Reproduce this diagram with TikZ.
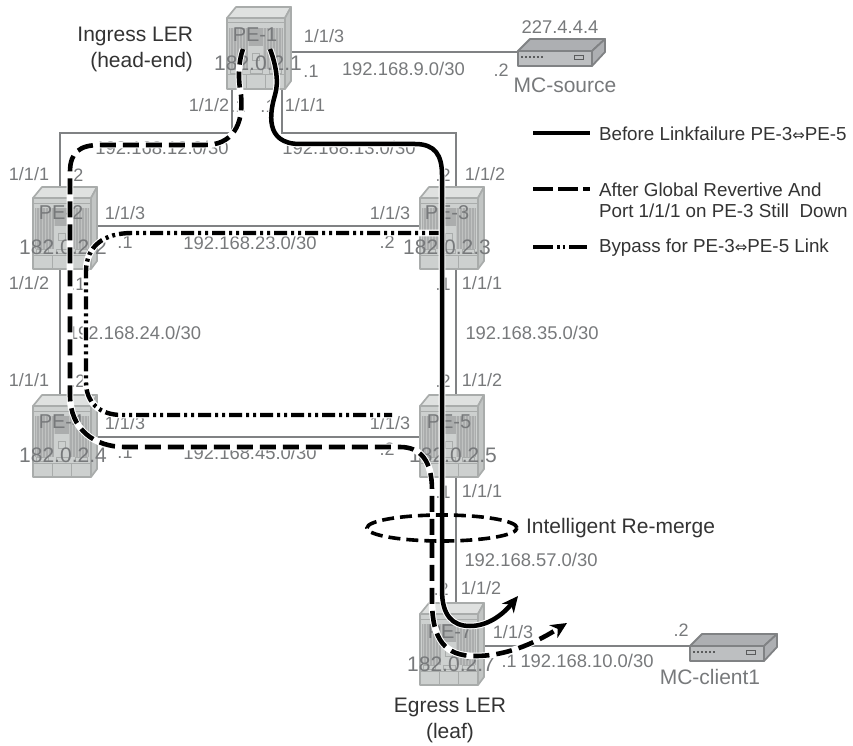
\documentclass[tikz,border=0pt]{standalone}
\usepackage{fontspec}
\setmainfont{Liberation Sans}
\newfontfamily\symfont{DejaVu Sans}
\usetikzlibrary{arrows.meta,calc,shapes.geometric}
\definecolor{labgray}{HTML}{77797B}
\definecolor{linkgray}{HTML}{808284}
\definecolor{dark}{HTML}{333333}
\definecolor{rface}{HTML}{CDD0CF}
\definecolor{rtop}{HTML}{DFE1E0}
\definecolor{rside}{HTML}{C2C5C4}
\definecolor{redge}{HTML}{A9ACAB}
\definecolor{rstripe}{HTML}{ABADAD}
\definecolor{devface}{HTML}{BDBFC1}
\definecolor{devtop}{HTML}{ADAFB2}
\newcommand{\biarrow}{{\symfont\fontsize{15}{15}\selectfont ⇔}}
\tikzset{
  x=1pt,y=-1pt,
  routerbox/.style={minimum width=65pt,minimum height=82pt,inner sep=0pt,outer sep=0pt},
  devbox/.style={minimum width=87pt,minimum height=29pt,inner sep=0pt,outer sep=0pt},
  link/.style={draw=linkgray,line width=2.8pt},
  lab/.style={text=labgray,font=\fontsize{18.4}{21}\selectfont,inner sep=0pt,outer sep=0pt},
  addr/.style={text=labgray,font=\fontsize{21}{24}\selectfont,inner sep=0pt,outer sep=0pt},
  pename/.style={text=labgray,font=\fontsize{20}{24}\selectfont,inner sep=0pt,outer sep=0pt},
  small/.style={text=labgray,font=\fontsize{18}{21}\selectfont,inner sep=0pt,outer sep=0pt},
  note/.style={text=dark,font=\fontsize{21}{24}\selectfont,inner sep=0pt,outer sep=0pt},
  legend/.style={text=dark,font=\fontsize{18.8}{22}\selectfont,inner sep=0pt,outer sep=0pt,anchor=west},
  casing/.style={preaction={draw=white,line width=6.6pt,solid}},
  before/.style={draw=black,line width=4.5pt},
  after/.style={draw=black,line width=4.6pt,dash pattern=on 16pt off 7pt},
  bypass/.style={draw=black,line width=4.4pt,dash pattern=on 13pt off 4pt on 3pt off 4pt on 3pt off 4pt},
  tipp/.style={-{Stealth[length=16pt,width=15pt,inset=5pt]}},
  pics/router/.style={code={
    % origin = centre of the chassis (65 x 82)
    \fill[rtop,draw=redge,line width=1.7pt,line join=round] (-32,-30) -- (-23,-41) -- (32,-41) -- (26,-30) -- cycle;
    \fill[rside,draw=redge,line width=1.7pt,line join=round] (26,-30) -- (32,-41) -- (32,33) -- (26,41) -- cycle;
    \fill[rface,draw=redge,line width=1.7pt,line join=round] (-32,-30) rectangle (26,41);
    \draw[redge,line width=1pt] (-32,-25) -- (26,-25);
    \fill[rstripe] (-30,-20) rectangle (24,21);
    \foreach \i in {-29,-26,...,-10,4,7,...,23}{\draw[rface!60!rstripe,line width=.6pt] (\i,-20) -- (\i,21);}
    \fill[rface] (-11,-2) rectangle (4,21);
    \draw[redge,line width=.8pt] (-7,5) rectangle (0,12);
    \draw[redge,line width=1pt] (-32,27) -- (26,27);
    \draw[redge,line width=1pt] (-13,27) -- (-13,41) (6,27) -- (6,41);
    \draw[redge,line width=.8pt] (-29,21) rectangle (-17,25) (-9,21) rectangle (3,25) (10,21) rectangle (22,25);
  }},
  pics/device/.style={code={
    % origin = centre of the device box
    \fill[devtop,draw=linkgray,line width=1.8pt,line join=round] (-43,-2) -- (-31,-14) -- (44,-14) -- (31,-2) -- cycle;
    \fill[devtop,draw=linkgray,line width=1.8pt,line join=round] (31,-2) -- (44,-14) -- (44,-1) -- (31,13) -- cycle;
    \fill[devface,draw=linkgray,line width=1.8pt,line join=round] (-43,-2) rectangle (31,13);
    \foreach \i in {-40,-36,...,-20}{\fill[linkgray!70!black] (\i,3) rectangle ++(2.4,2.4);}
    \draw[linkgray!70!black,line width=.9pt] (13,2.5) rectangle (22,6);
  }}
}
\begin{document}
\begin{tikzpicture}
\useasboundingbox (0,0) rectangle (853,746);
% anchors of the equipment
\node[routerbox] (pe1) at (259,48) {};
\node[routerbox] (pe2) at (65,228) {};
\node[routerbox] (pe3) at (452,228) {};
\node[routerbox] (pe4) at (65,436) {};
\node[routerbox] (pe5) at (452,436) {};
\node[routerbox] (pe7) at (452,644) {};
\node[devbox] (src) at (561,53) {};
\node[devbox] (cli) at (733,648) {};
% links
\draw[link] ([xshift=-27pt]pe1.south) |- (60,133) -- ([xshift=-5pt]pe2.north);
\draw[link] ([xshift=23pt]pe1.south) |- (456,133) -- ([xshift=4pt]pe3.north);
\draw[link] ([yshift=-4pt]pe1.east) -- ([yshift=1pt,xshift=1pt]src.west);
\draw[link] ([yshift=2pt]pe2.east) -- ([yshift=2pt]pe3.west);
\draw[link] ([xshift=-5pt]pe2.south) -- ([xshift=-5pt]pe4.north);
\draw[link] ([xshift=4pt]pe3.south) -- ([xshift=4pt]pe5.north);
\draw[link] ([yshift=-1pt]pe4.east) -- ([yshift=-1pt]pe5.west);
\draw[link] ([xshift=4pt]pe5.south) -- ([xshift=4pt]pe7.north);
\draw[link] ([yshift=-2pt]pe7.east) -- ([yshift=2pt,xshift=1pt]cli.west);
% equipment
\pic at (pe1.center) {router};
\pic at (pe2.center) {router};
\pic at (pe3.center) {router};
\pic at (pe4.center) {router};
\pic at (pe5.center) {router};
\pic at (pe7.center) {router};
\pic at (src.center) {device};
\pic at (cli.center) {device};
% labels
\node[note,anchor=east] (t1) at (193,36) {Ingress LER};
\node[note,anchor=east] (t2) at (193,62) {(head-end)};
\node[pename] (n1) at (255,35) {PE-1};
\node[addr] (a1) at (258,63) {182.0.2.1};
\node[small] (p1) at (324,36) {1/1/3};
\node[small] (d1) at (311,71) {.1};
\node[lab,anchor=west] (s1) at (342,69) {192.168.9.0/30};
\node[small] (d2) at (501,70) {.2};
\node[lab] (i1) at (560,27) {227.4.4.4};
\node[addr] (m1) at (565,85) {MC-source};
\node[small] (p2) at (209,105) {1/1/2};
\node[small] (d3) at (238,106) {.1};
\node[small] (d4) at (268,106) {.1};
\node[small] (p3) at (305,105) {1/1/1};
\node[lab] (s2) at (162,148) {192.168.12.0/30};
\node[lab] (s3) at (349,148) {192.168.13.0/30};
\node[small] (p4) at (29,174) {1/1/1};
\node[small] (d5) at (76,175) {.2};
\node[small] (d6) at (443,175) {.2};
\node[small] (p5) at (485,174) {1/1/2};
\node[pename] (n2) at (61,213) {PE-2};
\node[addr] (a2) at (63,247) {182.0.2.2};
\node[small] (p6) at (125,213) {1/1/3};
\node[small] (d7) at (125,242) {.1};
\node[lab] (s4) at (250,243) {192.168.23.0/30};
\node[small] (d8) at (387,242) {.2};
\node[small] (p7) at (390,213) {1/1/3};
\node[pename] (n3) at (447,213) {PE-3};
\node[addr] (a3) at (447,247) {182.0.2.3};
\node[small] (p8) at (29,283) {1/1/2};
\node[small] (d9) at (78,284) {.1};
\node[small] (d10) at (443,284) {.1};
\node[small] (p9) at (482,283) {1/1/1};
\node[lab,anchor=west] (s5) at (68,333) {192.168.24.0/30};
\node[lab] (s6) at (532,333) {192.168.35.0/30};
\node[small] (p10) at (29,380) {1/1/1};
\node[small] (d11) at (78,381) {.2};
\node[small] (d12) at (443,381) {.2};
\node[small] (p11) at (482,380) {1/1/2};
\node[pename] (n4) at (61,422) {PE-4};
\node[small] (p12) at (125,423) {1/1/3};
\node[addr] (a4) at (63,455) {182.0.2.4};
\node[small] (d13) at (125,452) {.1};
\node[lab] (s7) at (250,453) {192.168.45.0/30};
\node[small] (d14) at (387,449) {.2};
\node[small] (p13) at (390,423) {1/1/3};
\node[pename] (n5) at (449,422) {PE-5};
\node[addr] (a5) at (453,455) {182.0.2.5};
\node[small] (d15) at (443,492) {.1};
\node[small] (p14) at (482,491) {1/1/1};
\node[note,anchor=west] (t3) at (526,528) {Intelligent Re-merge};
\node[lab] (s8) at (531,560) {192.168.57.0/30};
\node[small] (d16) at (441,589) {.2};
\node[small] (p15) at (481,588) {1/1/2};
\node[small] (p16) at (513,632) {1/1/3};
\node[pename] (n7) at (450,632) {PE-7};
\node[addr] (a7) at (451,664) {182.0.2.7};
\node[small] (d17) at (509,661) {.1};
\node[lab] (s9) at (587,661) {192.168.10.0/30};
\node[small] (d18) at (681,630) {.2};
\node[addr] (m2) at (710,677) {MC-client1};
\node[note] (t4) at (450,707) {Egress LER};
\node[note] (t5) at (450,733) {(leaf)};
% route ends
\coordinate (bs) at ([xshift=11pt,yshift=-1pt]pe1.center);
\coordinate (as) at ([xshift=-16pt,yshift=-1pt]pe1.center);
\coordinate (be) at (518,596);
\coordinate (ae) at (567,623);
\coordinate (ys) at ([xshift=-10pt,yshift=-5pt]pe3.center);
\coordinate (ye) at (392,415);
% routes
\draw[bypass,casing] (ys) -- (132,233) .. controls (105,233) and (86,245) .. (86,272) -- (86,382) .. controls (86,403) and (100,415) .. (122,415) -- (ye);
\draw[after,tipp,casing] (as) .. controls (238,63) and (238,80) .. (241,95) .. controls (244,125) and (232,145) .. (205,145) -- (100,145) .. controls (80,145) and (70,152) .. (70,172) -- (70,395) .. controls (70,430) and (95,447) .. (125,447) -- (400,447) .. controls (420,447) and (432,460) .. (432,490) -- (432,600) .. controls (432,640) and (445,656) .. (475,656) .. controls (510,656) and (540,640) .. (ae);
\draw[before,tipp,casing] (bs) .. controls (276,65) and (279,82) .. (275,95) .. controls (270,112) and (264,144) .. (300,144) -- (415,144) .. controls (435,144) and (442,155) .. (442,175) -- (442,590) .. controls (442,615) and (452,626) .. (470,626) .. controls (490,626) and (505,612) .. (be);
\node[ellipse,draw=black,line width=3.6pt,dash pattern=on 12pt off 6pt,minimum width=150pt,minimum height=26pt,inner sep=0pt] (em) at (442,528) {};
% legend
\coordinate (l1a) at (533,133); \coordinate (l1b) at (590,133);
\coordinate (l2a) at (533,189); \coordinate (l2b) at (590,189);
\coordinate (l3a) at (533,247); \coordinate (l3b) at (587,247);
\draw[before] (l1a) -- (l1b);
\draw[after,dash pattern=on 20pt off 5pt] (l2a) -- (l2b);
\draw[bypass,dash pattern=on 20pt off 4pt on 2.5pt off 3pt on 2.5pt off 4pt] (l3a) -- (l3b);
\node[legend] (g1) at (599,134) {Before Linkfailure PE-3\biarrow PE-5};
\node[legend] (g2) at (599,190) {After Global Revertive And};
\node[legend] (g3) at (599,211) {Port 1/1/1 on PE-3 Still\ \ Down};
\node[legend] (g4) at (599,248) {Bypass for PE-3\biarrow PE-5 Link};
\end{tikzpicture}
\end{document}
